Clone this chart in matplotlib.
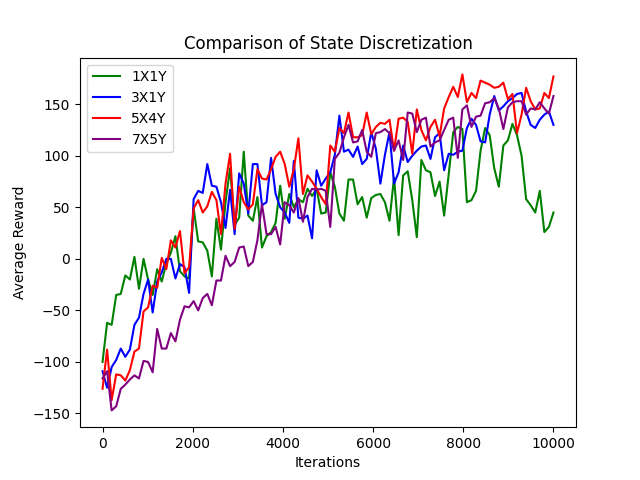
import numpy as np
import matplotlib
matplotlib.use('Agg')
import matplotlib.pyplot as plt

iterations = np.linspace(0, 10000, 100)

reward_1x1y = [-100, -62, -64, -35, -34, -16, -20, 2, -29, 0,
               -20, -35, -10, -22, -4, 6, 22, -12, -17, -19,
               49, 17, 16, 8, -17, 39, 9, 55, 88, 33,
               40, 104, 42, 37, 60, 11, 22, 26, 35, 71,
               39, 63, 50, 58, 55, 68, 61, 68, 44, 45,
               84, 70, 44, 37, 77, 77, 53, 60, 40, 59,
               62, 63, 55, 37, 79, 23, 81, 85, 57, 21,
               96, 86, 84, 61, 75, 42, 82, 123, 128, 126,
               55, 57, 66, 105, 127, 120, 88, 70, 110, 115,
               131, 120, 100, 58, 52, 45, 66, 26, 31, 45]

reward_3x1y = [-109, -125, -105, -98, -87, -95, -88, -64, -57, -34,
               -20, -52, -22, -13, 0, 0, -19, -5, -8, -33,
               58, 66, 64, 92, 71, 70, 55, 30, 67, 24,
               83, 73, 44, 92, 92, 52, 55, 98, 63, 50,
               45, 35, 95, 40, 39, 42, 20, 86, 71, 78,
               84, 101, 139, 104, 106, 99, 109, 92, 97, 123,
               107, 73, 101, 123, 73, 84, 110, 94, 100, 105,
               109, 110, 97, 118, 122, 86, 102, 101, 104, 105,
               127, 136, 130, 114, 113, 140, 158, 144, 148, 153,
               156, 160, 161, 143, 130, 127, 135, 140, 143, 130]

reward_5x4y = [-126, -88, -137, -112, -113, -118, -108, -90, -87, -51,
               -47, -26, -28, 1, -10, 18, 11, 27, -14, -8,
               49, 57, 45, 51, 65, 57, 24, 73, 102, 29,
               70, 55, 48, 53, 87, 78, 77, 87, 99, 104,
               92, 70, 87, 117, 63, 81, 75, 68, 60, 53,
               110, 104, 127, 122, 142, 118, 118, 120, 142, 121,
               128, 132, 131, 135, 105, 136, 137, 133, 102, 145,
               125, 115, 128, 135, 119, 146, 157, 167, 157, 179,
               152, 161, 156, 173, 171, 169, 166, 167, 171, 155,
               160, 122, 140, 166, 153, 145, 146, 161, 156, 177]

reward_7x5y = [-116, -109, -147, -143, -126, -122, -117, -113, -116, -99,
               -100, -110, -68, -87, -87, -72, -80, -59, -46, -47,
               -41, -50, -38, -34, -45, -21, -21, 3, -7, -3,
               11, 12, -7, -3, 18, 53, 24, 24, 31, 14,
               55, 52, 45, 59, 36, 60, 68, 67, 68, 66,
               31, 97, 103, 118, 130, 113, 114, 125, 104, 99,
               122, 123, 126, 122, 105, 115, 96, 142, 141, 123,
               135, 137, 109, 113, 115, 125, 135, 137, 98, 145,
               149, 128, 138, 139, 151, 152, 156, 146, 126, 147,
               152, 153, 153, 140, 146, 145, 152, 146, 141, 158]

plt.figure(figsize=(6.4, 4.8), dpi=100)
plt.plot(iterations, reward_1x1y, color='green', label='1X1Y')
plt.plot(iterations, reward_3x1y, color='blue', label='3X1Y')
plt.plot(iterations, reward_5x4y, color='red', label='5X4Y')
plt.plot(iterations, reward_7x5y, color='purple', label='7X5Y')

plt.title('Comparison of State Discretization')
plt.xlabel('Iterations')
plt.ylabel('Average Reward')
plt.legend(loc='upper left')

plt.savefig('out.png')
